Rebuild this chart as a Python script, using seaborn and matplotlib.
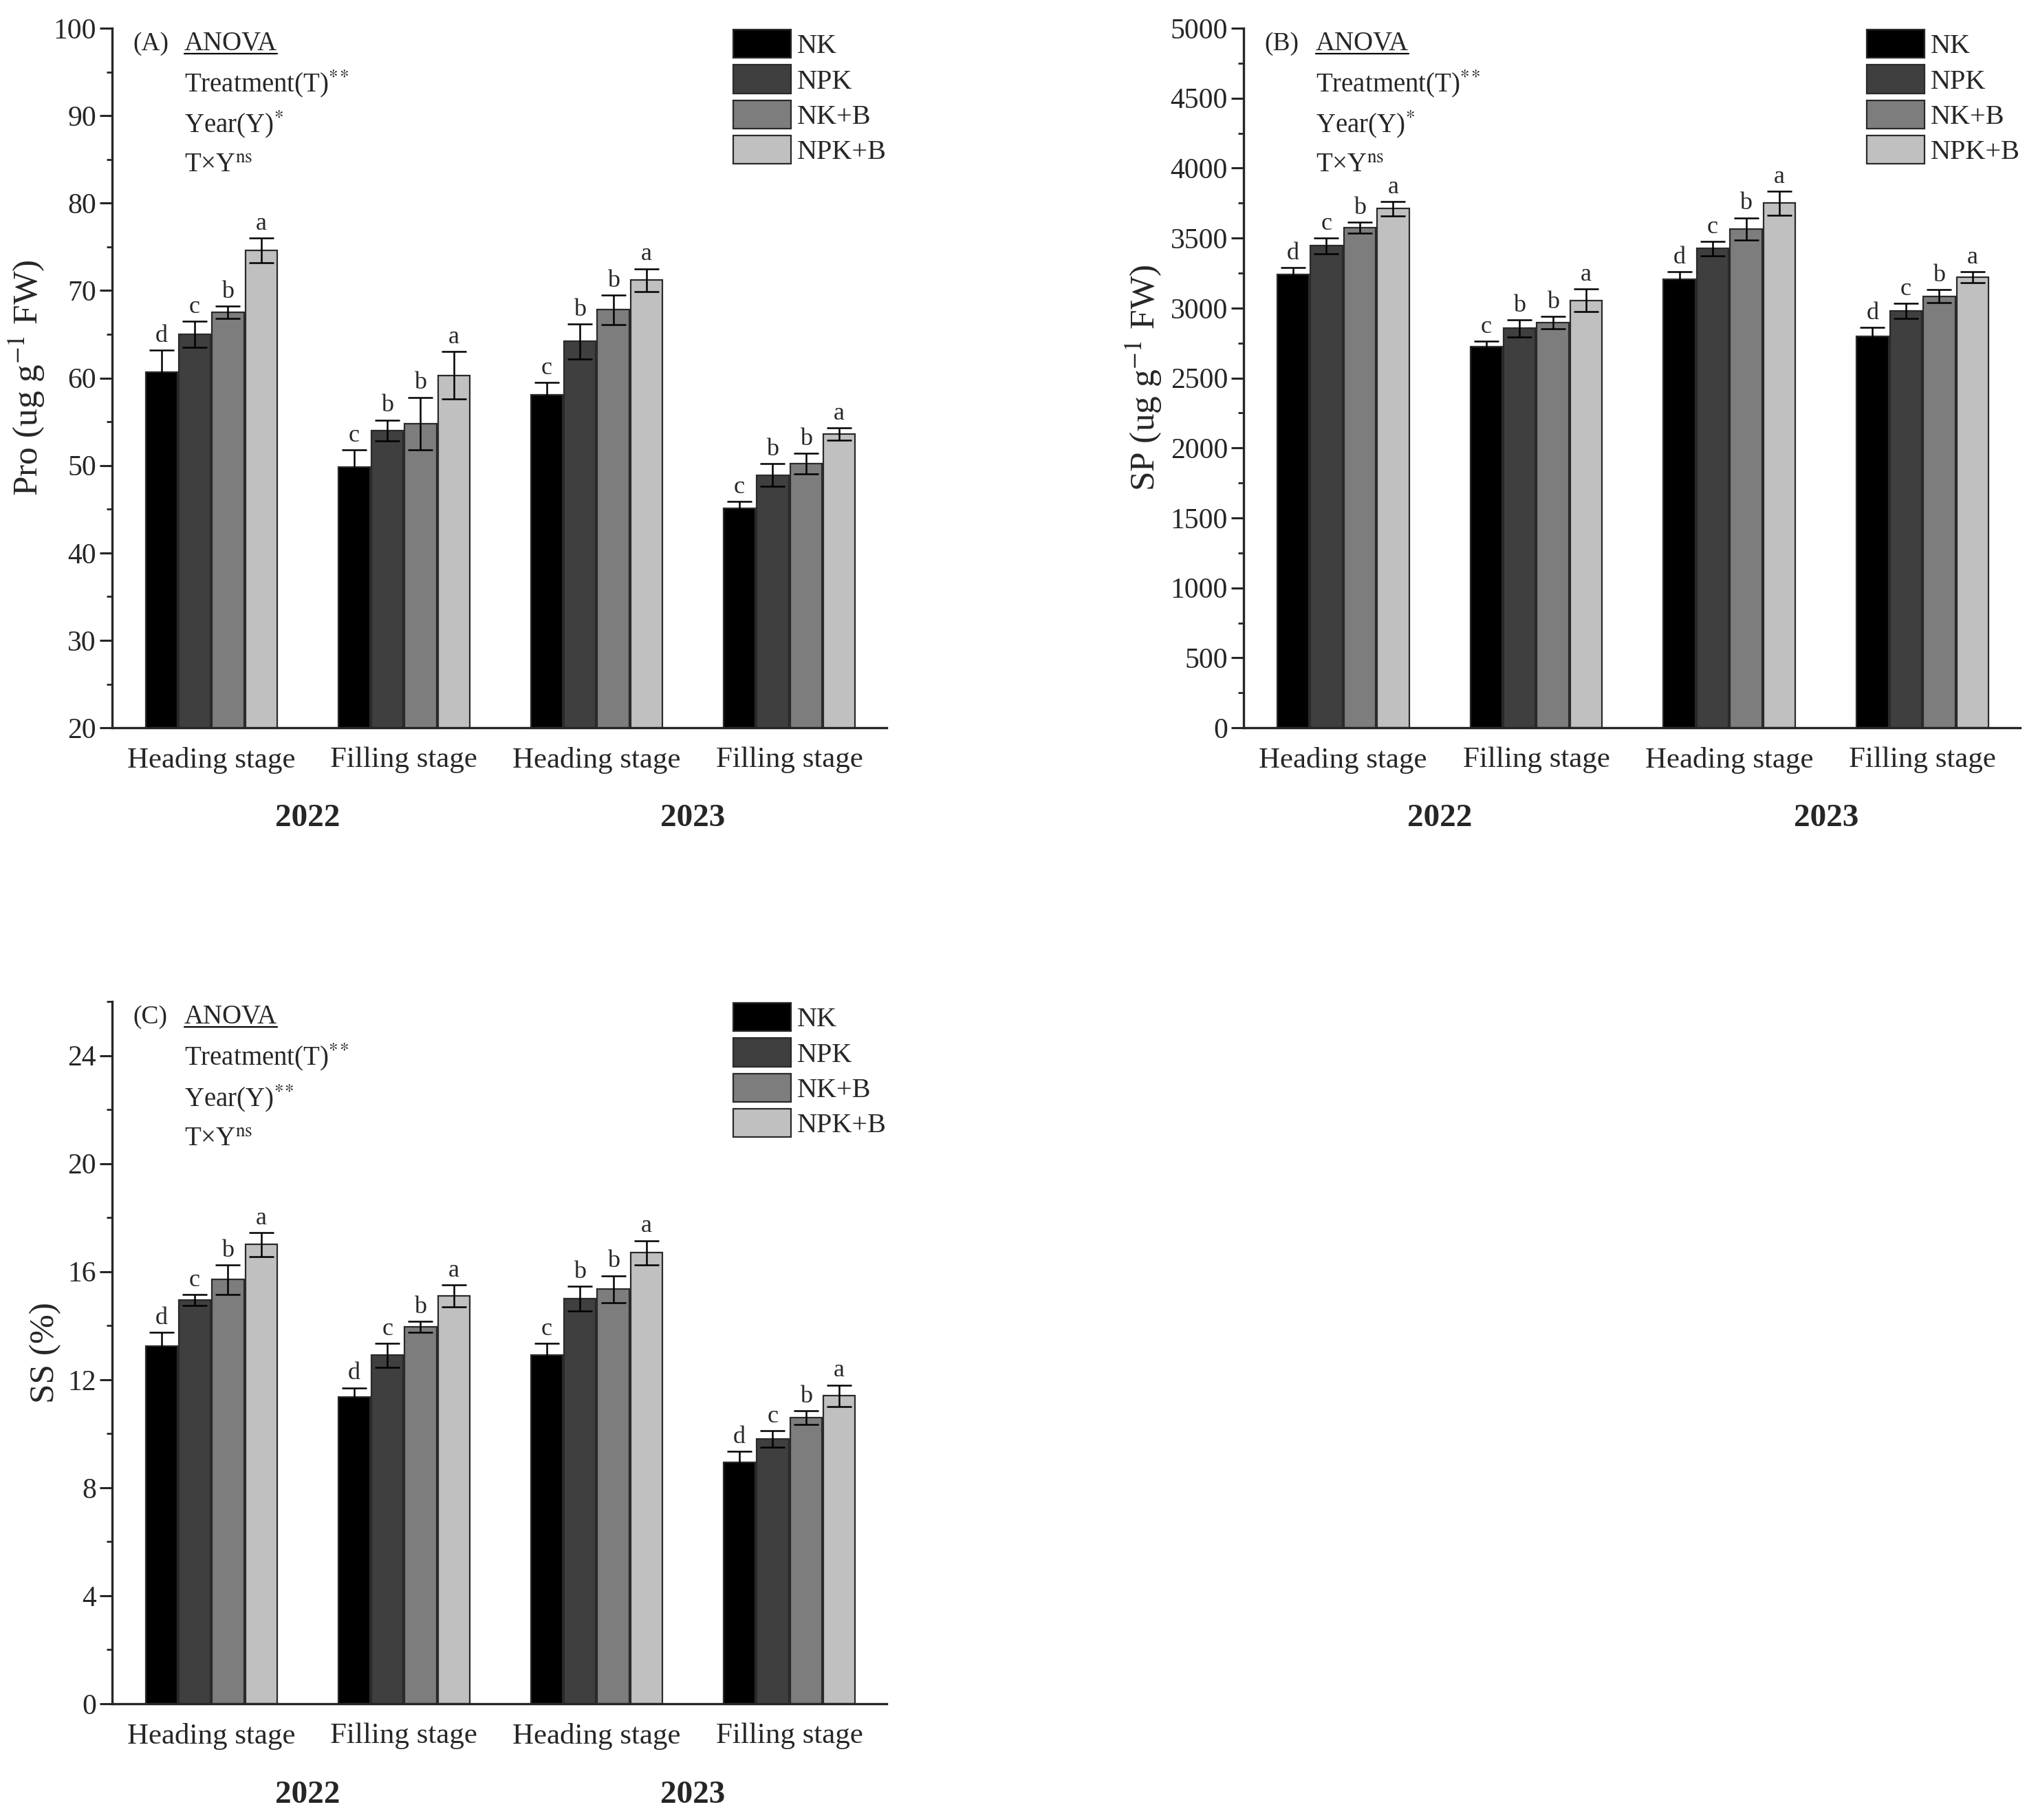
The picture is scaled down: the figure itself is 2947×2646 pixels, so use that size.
import matplotlib
matplotlib.use("Agg")
import matplotlib.pyplot as plt
import pandas as pd
import seaborn as sns
from matplotlib.container import BarContainer
from matplotlib.ticker import MultipleLocator

# Common categories
treatments = ["NK", "NPK", "NK+B", "NPK+B"]
colors = ["#000000", "#3f3f3f", "#7d7d7d", "#c0c0c0"]
groups = ["H2022", "F2022", "H2023", "F2023"]
stage_labels = ["Heading stage", "Filling stage", "Heading stage", "Filling stage"]
years = ["2022", "2023"]

# (A) Pro, one row per treatment, columns follow groups
pro_mean = [[60.7, 49.8, 58.1, 45.1],
            [65.0, 54.0, 64.2, 48.9],
            [67.5, 54.8, 67.8, 50.2],
            [74.6, 60.3, 71.2, 53.6]]
pro_err = [[2.5, 2.0, 1.4, 0.8],
           [1.5, 1.2, 2.0, 1.3],
           [0.7, 3.0, 1.7, 1.2],
           [1.4, 2.7, 1.3, 0.7]]
pro_sig = [["d", "c", "c", "c"],
           ["c", "b", "b", "b"],
           ["b", "b", "b", "b"],
           ["a", "a", "a", "a"]]

# (B) SP
sp_mean = [[3240, 2725, 3205, 2800],
           [3445, 2855, 3425, 2980],
           [3575, 2895, 3565, 3085],
           [3710, 3055, 3750, 3220]]
sp_err = [[50, 40, 55, 60],
          [55, 60, 50, 55],
          [40, 45, 80, 45],
          [50, 80, 85, 40]]
sp_sig = [["d", "c", "d", "d"],
          ["c", "b", "c", "c"],
          ["b", "b", "b", "b"],
          ["a", "a", "a", "a"]]

# (C) SS
ss_mean = [[13.25, 11.35, 12.9, 8.95],
           [14.95, 12.9, 15.0, 9.8],
           [15.7, 13.95, 15.35, 10.6],
           [17.0, 15.1, 16.7, 11.4]]
ss_err = [[0.5, 0.35, 0.45, 0.4],
          [0.2, 0.45, 0.45, 0.3],
          [0.55, 0.2, 0.5, 0.25],
          [0.45, 0.4, 0.45, 0.4]]
ss_sig = [["d", "d", "c", "d"],
          ["c", "c", "b", "c"],
          ["b", "b", "b", "b"],
          ["a", "a", "a", "a"]]

sns.set_style("ticks")
plt.rcParams["font.family"] = ["Liberation Serif", "DejaVu Serif"]
plt.rcParams["mathtext.fontset"] = "stix"

underline_texts = []


def panel(ax, means, errs, sig, ylabel, ylim, major, minor, tag, anova):
    rows = []
    for i, t in enumerate(treatments):
        for j, g in enumerate(groups):
            rows.append((g, t, means[i][j]))
    df = pd.DataFrame(rows, columns=["group", "treatment", "value"])
    sns.barplot(data=df, x="group", y="value", hue="treatment", order=groups,
                hue_order=treatments, palette=colors, width=0.69, gap=0.04,
                edgecolor="#2a2a2a", linewidth=1.6, errorbar=None, ax=ax)

    bars = [b for c in ax.containers if isinstance(c, BarContainer) for b in c]
    bars = sorted(bars, key=lambda p: p.get_x())
    for k, bar in enumerate(bars):
        j, i = k // 4, k % 4
        x = bar.get_x() + bar.get_width() / 2
        top = bar.get_height()
        ax.errorbar(x, top, yerr=errs[i][j], color="black", capsize=13,
                    elinewidth=1.8, capthick=1.8)
        ax.annotate(sig[i][j], (x, top + errs[i][j]), xytext=(0, 3),
                    textcoords="offset points", ha="center", va="bottom", fontsize=26)

    handles, labels = ax.get_legend_handles_labels()
    ax.legend(handles[:4], labels[:4], loc="upper right", bbox_to_anchor=(1.0, 0.998),
              frameon=False, fontsize=29, handlelength=2.1, handleheight=1.2,
              labelspacing=0.2, handletextpad=0.22, borderpad=0, borderaxespad=0)

    ax.set_xlim(-0.515, 3.505)
    ax.set_ylim(*ylim)
    ax.yaxis.set_major_locator(MultipleLocator(major))
    ax.yaxis.set_minor_locator(MultipleLocator(minor))
    ax.set_xticks(range(len(groups)))
    ax.set_xticklabels(stage_labels)
    ax.set_xlabel(None)
    ax.set_ylabel(ylabel, fontsize=37, labelpad=7)
    ax.tick_params(axis="y", labelsize=30, width=2.2, direction="out")
    ax.tick_params(axis="y", which="major", length=13)
    ax.tick_params(axis="y", which="minor", length=6, width=2.0)
    ax.tick_params(axis="x", labelsize=31, length=0, pad=20)
    sns.despine(ax=ax)
    for s in ["left", "bottom"]:
        ax.spines[s].set_linewidth(2.4)

    for k, yr in enumerate(years):
        ax.text(0.5 + 2 * k, -0.13, yr, transform=ax.get_xaxis_transform(),
                ha="center", va="center", fontsize=34, fontweight="bold")

    ax.text(0.027, 0.978, tag, transform=ax.transAxes, ha="left", va="center", fontsize=27)
    t = ax.text(0.093, 0.978, "ANOVA", transform=ax.transAxes, ha="left", va="center", fontsize=28)
    underline_texts.append((ax, t))
    for n, line in enumerate(anova):
        ax.text(0.093, 0.921 - n * 0.0585, line, transform=ax.transAxes,
                ha="left", va="center", fontsize=28)


fig = plt.figure(figsize=(29.47, 26.46), dpi=100)
ax_a = fig.add_axes([0.0553, 0.6001, 0.3821, 0.3844])
ax_b = fig.add_axes([0.6135, 0.6001, 0.3831, 0.3844])
ax_c = fig.add_axes([0.0553, 0.0639, 0.3821, 0.3858])

panel(ax_a, pro_mean, pro_err, pro_sig, "Pro (ug g$^{-1}$ FW)", (20, 100), 10, 5, "(A)",
      ["Treatment(T)$^{*}$$^{*}$", "Year(Y)$^{*}$", "T×Y$^{\\mathrm{ns}}$"])
panel(ax_b, sp_mean, sp_err, sp_sig, "SP (ug g$^{-1}$ FW)", (0, 5000), 500, 250, "(B)",
      ["Treatment(T)$^{*}$$^{*}$", "Year(Y)$^{*}$", "T×Y$^{\\mathrm{ns}}$"])
panel(ax_c, ss_mean, ss_err, ss_sig, "SS (%)", (0, 26), 4, 2, "(C)",
      ["Treatment(T)$^{*}$$^{*}$", "Year(Y)$^{*}$$^{*}$", "T×Y$^{\\mathrm{ns}}$"])

# underline the ANOVA headings
fig.canvas.draw()
renderer = fig.canvas.get_renderer()
for ax, t in underline_texts:
    bb = t.get_window_extent(renderer).transformed(ax.transAxes.inverted())
    ax.plot([bb.x0, bb.x1], [bb.y0 + 0.004, bb.y0 + 0.004], transform=ax.transAxes,
            color="black", linewidth=1.6, clip_on=False)

fig.savefig("out.png", dpi=100)
